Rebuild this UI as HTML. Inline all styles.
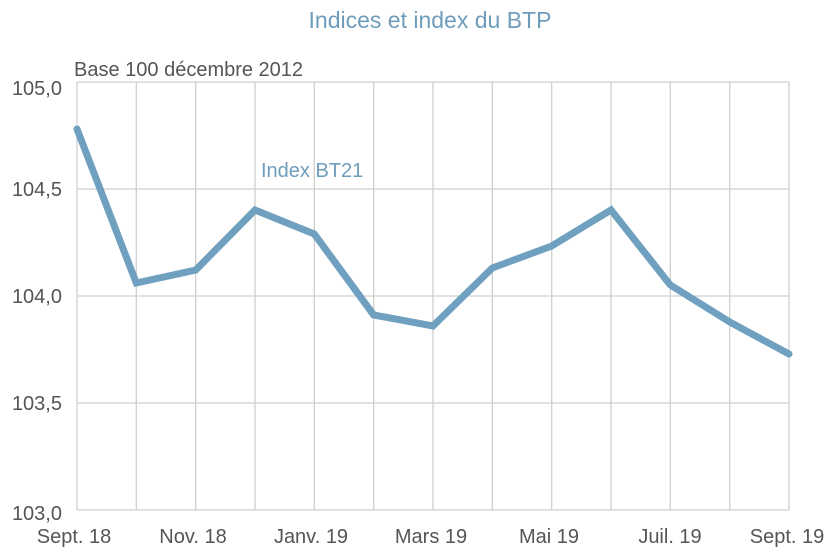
<!DOCTYPE html>
<html><head><meta charset="utf-8"><style>
html,body{margin:0;padding:0;background:#fff;}
svg{display:block;}
text{font-family:"Liberation Sans",sans-serif;}
</style></head><body>
<svg width="835" height="554" viewBox="0 0 835 554" xmlns="http://www.w3.org/2000/svg">
<text x="430" y="28" text-anchor="middle" font-size="23" fill="#6e9dbb">Indices et index du BTP</text>
<text x="74" y="76" font-size="20" fill="#555">Base 100 décembre 2012</text>
<g stroke="#cfcfcf" stroke-width="1.3" fill="none">
<line x1="77" y1="82" x2="789" y2="82"/>
<line x1="77" y1="189" x2="789" y2="189"/>
<line x1="77" y1="296" x2="789" y2="296"/>
<line x1="77" y1="403" x2="789" y2="403"/>
<line x1="77" y1="510" x2="789" y2="510"/>
<line x1="77" y1="82" x2="77" y2="510"/>
<line x1="136.3" y1="82" x2="136.3" y2="510"/>
<line x1="195.7" y1="82" x2="195.7" y2="510"/>
<line x1="255" y1="82" x2="255" y2="510"/>
<line x1="314.3" y1="82" x2="314.3" y2="510"/>
<line x1="373.7" y1="82" x2="373.7" y2="510"/>
<line x1="433" y1="82" x2="433" y2="510"/>
<line x1="492.3" y1="82" x2="492.3" y2="510"/>
<line x1="551.7" y1="82" x2="551.7" y2="510"/>
<line x1="611" y1="82" x2="611" y2="510"/>
<line x1="670.3" y1="82" x2="670.3" y2="510"/>
<line x1="729.7" y1="82" x2="729.7" y2="510"/>
<line x1="789" y1="82" x2="789" y2="510"/>
</g>
<g font-size="20" fill="#555" text-anchor="end">
<text x="62" y="95">105,0</text>
<text x="62" y="196">104,5</text>
<text x="62" y="303">104,0</text>
<text x="62" y="410">103,5</text>
<text x="62" y="520">103,0</text>
</g>
<g font-size="20" fill="#555" text-anchor="middle">
<text x="74" y="543">Sept. 18</text>
<text x="193" y="543">Nov. 18</text>
<text x="311" y="543">Janv. 19</text>
<text x="431" y="543">Mars 19</text>
<text x="549" y="543">Mai 19</text>
<text x="670" y="543">Juil. 19</text>
<text x="787" y="543">Sept. 19</text>
</g>
<text x="261" y="177" font-size="20" fill="#6e9dbb">Index BT21</text>
<polyline fill="none" stroke="#6fa0bf" stroke-width="7" stroke-linejoin="miter" stroke-linecap="round"
points="77,129 136.3,283 195.7,270 255,210 314.3,234 373.7,315 433,326 492.3,268 551.7,246 611,210 670.3,285 729.7,322 789,354"/>
</svg>
</body></html>
